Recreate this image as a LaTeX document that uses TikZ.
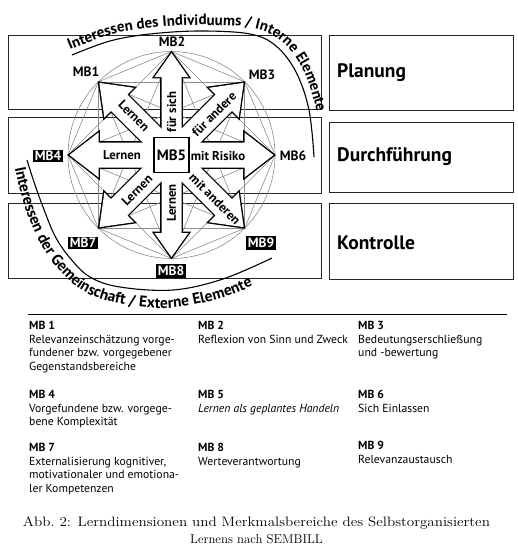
\documentclass[tikz,border=0pt]{standalone}
\usepackage{graphicx}
\usepackage{fontspec}
\setsansfont{PT Sans}
\usetikzlibrary{decorations.text}
\definecolor{chord}{gray}{0.55}
\begin{document}
\begin{tikzpicture}[x=1pt,y=-1pt,
  rowbox/.style={draw=black!85, line width=0.9pt, inner sep=0pt},
  phase/.style={font=\sffamily\bfseries\fontsize{19.5}{22}\selectfont, anchor=west, inner sep=0pt},
  mblabel/.style={font=\sffamily\bfseries\fontsize{13.5}{16}\selectfont, inner sep=0pt},
  mbdark/.style={mblabel, fill=black, text=white, inner sep=1.6pt},
  arrlabel/.style={font=\sffamily\bfseries\fontsize{12.8}{14}\selectfont, inner sep=0pt},
  desc/.style={font=\sffamily\fontsize{11.7}{13.6}\selectfont, anchor=north west, align=left, inner sep=0pt},
  chordline/.style={draw=chord, line width=0.6pt},
  arcline/.style={line width=1.1pt},
  captext/.style={font=\rmfamily\fontsize{13.6}{15}\selectfont, anchor=base, inner sep=0pt},
]
\useasboundingbox (0,0) rectangle (518,546);
\fill[white] (0,0) rectangle (518,546);
% row boxes
\node[rowbox, minimum width=313pt, minimum height=74pt] (L1) at (164.5,72) {};
\node[rowbox, minimum width=313pt, minimum height=76pt] (L2) at (164.5,155) {};
\node[rowbox, minimum width=313pt, minimum height=75pt] (L3) at (164.5,240.5) {};
\node[rowbox, minimum width=184pt, minimum height=75pt] (R1) at (421,72.5) {};
\node[rowbox, minimum width=184pt, minimum height=70pt] (R2) at (421,157) {};
\node[rowbox, minimum width=184pt, minimum height=76pt] (R3) at (421,241) {};
\node[phase] (planung) at (337,73) {Planung};
\node[phase] (durch) at (337,157) {Durchführung};
\node[phase] (kontrolle) at (337,243) {Kontrolle};
% star points
\coordinate (C) at (171.5,155);
\coordinate (P0) at (275,155);
\coordinate (P1) at (244.7,81.8);
\coordinate (P2) at (171.5,51.5);
\coordinate (P3) at (98.3,81.8);
\coordinate (P4) at (68,155);
\coordinate (P5) at (98.3,228.2);
\coordinate (P6) at (171.5,258.5);
\coordinate (P7) at (244.7,228.2);
\draw[chordline] (C) circle (103.5);
\foreach \i in {0,...,6}{
  \pgfmathtruncatemacro\k{\i+1}
  \foreach \j in {\k,...,7}{\draw[chordline] (P\i) -- (P\j);}
}
% arrows: outline then fill
\def\arrowlist{0/12.5/22.5/29, 45/11.5/21/28, 90/10/17/24, 135/11.5/21/28, 180/12.5/22.5/29, 225/11.5/21/28, 270/10/17/24, 315/11.5/21/28}
\foreach \a/\w/\h/\l in \arrowlist{
  \draw[shift={(C)}, rotate=\a, line width=2.8pt, line join=miter]
    (0,-\w) -- (102-\l,-\w) -- (102-\l,-\h) -- (102,0) -- (102-\l,\h) -- (102-\l,\w) -- (0,\w) -- cycle;
}
\foreach \a/\w/\h/\l in \arrowlist{
  \fill[white, shift={(C)}, rotate=\a]
    (0,-\w) -- (102-\l,-\w) -- (102-\l,-\h) -- (102,0) -- (102-\l,\h) -- (102-\l,\w) -- (0,\w) -- cycle;
}
% arrow labels
\node[arrlabel, rotate=-45] (a1) at (134,116) {Lernen};
\node[arrlabel, rotate=90] (a2) at (171.5,112) {für sich};
\node[arrlabel, rotate=45] (a3) at (214,114) {für andere};
\node[arrlabel] (a4) at (122,155) {Lernen};
\node[arrlabel] (a6) at (218,156) {mit Risiko};
\node[arrlabel, rotate=45] (a7) at (137,190) {Lernen};
\node[arrlabel, rotate=90] (a8) at (171.5,203) {Lernen};
\node[arrlabel, rotate=-45] (a9) at (215,199) {mit anderen};
% centre
\node[draw, line width=1.3pt, fill=white, minimum size=35pt, inner sep=0pt,
      font=\sffamily\bfseries\fontsize{15}{17}\selectfont] (MB5) at (C) {MB5};
% MB labels
\node[mblabel] (MB1) at (86,72) {MB1};
\node[mblabel] (MB2) at (172,42) {MB2};
\node[mblabel] (MB3) at (262,75) {MB3};
\node[mblabel] (MB6) at (293,156) {MB6};
\node[mbdark] (MB4) at (48,156) {MB4};
\node[mbdark] (MB7) at (83,243) {MB7};
\node[mbdark] (MB8) at (171,271) {MB8};
\node[mbdark] (MB9) at (261,243) {MB9};
% curved captions
\draw[arcline] plot[smooth, tension=0.6] coordinates {(72,55) (110,41) (150,34) (200,31) (250,34) (276,46) (296,72) (309,110) (314,157)};
\path[decorate, decoration={text along path, text align=left,
  text={|\sffamily\bfseries\fontsize{15}{16}\selectfont|Interessen des Individuums / Interne Elemente}}]
  plot[smooth, tension=0.6] coordinates {(70,50) (110,35) (150,28) (200,25) (252,28) (281,41) (302,68) (316,108) (321,140)};
\draw[arcline] plot[smooth, tension=0.6] coordinates {(27,160) (34,182) (43,207) (55,236) (70,258) (90,277) (120,287) (173,290) (223,279) (272,258)};
\path[decorate, decoration={text along path, text align=left,
  text={|\sffamily\bfseries\fontsize{15.5}{16}\selectfont|Interessen der Gemeinschaft / Externe Elemente}}]
  plot[smooth, tension=0.6] coordinates {(15,168) (21,194) (30,221) (43,248) (61,272) (85,292) (120,304) (170,308) (225,297) (268,278) (285,268)};
% rule
\coordinate (ruleL) at (28,314);
\coordinate (ruleR) at (507,314);
\draw[line width=0.9pt] (ruleL) -- (ruleR);
% descriptions
\node[desc] (d1) at (29,321) {\textbf{MB 1}\\Relevanzeinschätzung vorge-\\fundener bzw. vorgegebener\\Gegenstandsbereiche};
\node[desc] (d2) at (198,321) {\textbf{MB 2}\\Reflexion von Sinn und Zweck};
\node[desc] (d3) at (358,321) {\textbf{MB 3}\\Bedeutungserschließung\\und -bewertung};
\node[desc] (d4) at (29,390) {\textbf{MB 4}\\Vorgefundene bzw. vorgege-\\bene Komplexität};
\node[desc] (d5) at (198,390) {\textbf{MB 5}\\\textit{Lernen als geplantes Handeln}};
\node[desc] (d6) at (358,390) {\textbf{MB 6}\\Sich Einlassen};
\node[desc] (d7) at (29,443) {\textbf{MB 7}\\Externalisierung kognitiver,\\motivationaler und emotiona-\\ler Kompetenzen};
\node[desc] (d8) at (198,443) {\textbf{MB 8}\\Werteverantwortung};
\node[desc] (d9) at (358,441) {\textbf{MB 9}\\Relevanzaustausch};
% caption
\node[captext] (cap1) at (256.5,526) {\resizebox{467pt}{\height}{Abb.~2: Lerndimensionen und Merkmalsbereiche des Selbstorganisierten}};
\node[captext, font=\rmfamily\fontsize{12.8}{15}\selectfont] (cap2) at (256.5,543) {Lernens nach SEMBILL};
\end{tikzpicture}
\end{document}
